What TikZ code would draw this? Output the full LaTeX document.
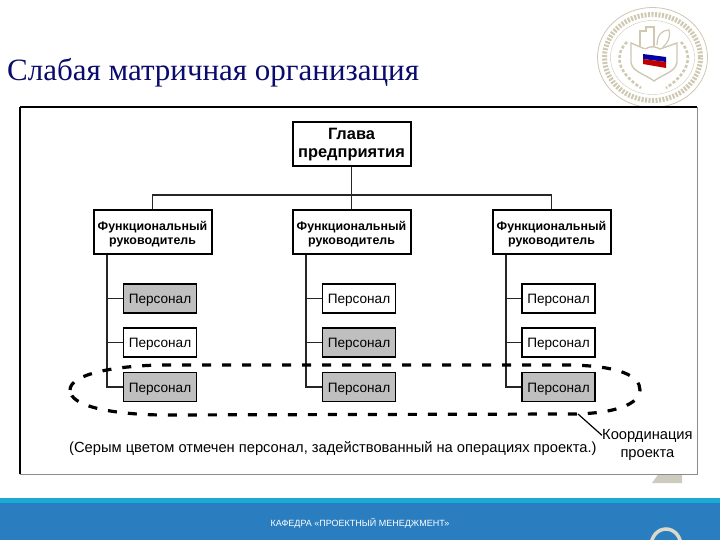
\documentclass[tikz,border=0pt]{standalone}
\usepackage{fontspec}
\usepackage{xcolor}
\setmainfont{Liberation Sans}
\newfontfamily\serifname{Liberation Serif}
\usetikzlibrary{calc,positioning}
\definecolor{titul}{HTML}{0B0B6E}
\definecolor{pechat}{HTML}{CFC9B2}
\definecolor{polosa}{HTML}{2A7EC0}
\definecolor{kromka}{HTML}{1CA9D2}
\tikzset{
  glavn/.style={draw=black,line width=2pt,fill=white,minimum width=118pt,minimum height=44pt,inner sep=0pt,align=center,font=\fontsize{12.4}{14.5}\selectfont\bfseries},
  pers/.style={draw=black,line width=1.7pt,minimum width=73pt,minimum height=29pt,inner sep=0pt,text height=12pt,text depth=2pt,font=\fontsize{13.6}{15}\selectfont},
  sery/.style={pers,fill=black!25},
  bely/.style={pers,fill=white},
  liniya/.style={line width=1.7pt,black!85},
  oval/.style={line width=3.2pt,dash pattern=on 9pt off 11pt},
  podpis/.style={inner sep=0pt,align=center,font=\fontsize{14.7}{18}\selectfont}
}
\begin{document}
\begin{tikzpicture}[x=1pt,y=-1pt]
\useasboundingbox (0,0) rectangle (720,540);
\fill[white] (0,0) rectangle (720,540);
% pechat
\draw[pechat,thick] (652.5,57.5) ellipse (55 and 50);
\draw[pechat,line width=5pt,dash pattern=on 2pt off 1.5pt] (652.5,57.5) ellipse (48 and 43);
\draw[pechat] (652.5,57.5) ellipse (42 and 37);
\draw[pechat,line width=1.4pt] (631,43) -- (631,62) .. controls (632,72) and (645,74) .. (654,81) .. controls (663,74) and (676,72) .. (677,62) -- (677,43) -- (660,49) .. controls (655,46) and (650,46) .. (645,49) -- cycle;
\draw[pechat,line width=1.2pt] (640,46) -- (640,31) -- (646,31) -- (646,27) -- (654,27) -- (654,46);
\draw[pechat,line width=1.2pt] (657,45) .. controls (657,35) and (662,30) .. (669,30) .. controls (671,36) and (668,43) .. (663,47);
\fill[white] (643,49) -- (666,52) -- (666,57) -- (643,54) -- cycle;
\fill[blue!65!black] (643,54) -- (666,57) -- (666,62) -- (643,59) -- cycle;
\fill[red!75!black] (643,59) -- (666,62) -- (666,68) -- (643,64) -- cycle;
\draw[pechat,line width=2.5pt,dash pattern=on 3pt off 2pt] (627,42) .. controls (614,55) and (617,72) .. (641,88);
\draw[pechat,line width=2.5pt,dash pattern=on 3pt off 2pt] (681,42) .. controls (693,55) and (690,72) .. (666,88);
% zagolovok
\node[anchor=base west,inner sep=0pt,text=titul,font=\serifname\fontsize{31}{34}\selectfont] (titl) at (7,81) {Слабая матричная организация};
% nomer slajda
\fill[pechat!70!gray!70!white] (652,483) -- (660,472) -- (682,472) -- (682,483) -- cycle;
% ramka
\fill[white] (20,107) rectangle (697,474);
\draw[black!45] (697,107) -- (697,474) -- (20,474);
\draw[line width=1.4pt] (20,474) -- (20,107);
\draw[line width=2pt] (20,107) -- (697,107);
% polosa
\fill[polosa] (0,498) rectangle (720,540);
\fill[kromka] (0,498) rectangle (720,503);
\node[text=white,inner sep=0pt,font=\fontsize{9}{10}\selectfont] (kaf) at (360,523) {КАФЕДРА «ПРОЕКТНЫЙ МЕНЕДЖМЕНТ»};
\begin{scope}
\clip (640,520) rectangle (700,540);
\draw[pechat!70!white,line width=3.5pt] (666,546) ellipse (15 and 17);
\end{scope}
% rukovoditeli
\node[glavn,font=\fontsize{16.4}{18.5}\selectfont\bfseries] (glava) at (351.5,144.5) {Глава\\предприятия};
\foreach \n/\x in {1/152.5,2/351.5,3/551.5}
  \node[glavn] (ruk\n) at (\x,232) {\rule{0pt}{14pt}Функциональный\\руководитель};
\coordinate (shina) at (351.5,195);
\draw[liniya] (glava) -- (ruk2);
\draw[liniya] (ruk1.north) |- (shina) -| (ruk3.north);
% personal
\foreach \n/\x/\a/\b/\c in {1/160/sery/bely/sery,2/359/bely/sery/sery,3/558.5/bely/bely/sery}{
  \node[\a] (p\n1) at (\x,298.5) {Персонал};
  \node[\b] (p\n2) at (\x,342.5) {Персонал};
  \node[\c] (p\n3) at (\x,387) {Персонал};
  \coordinate (st\n) at ($(ruk\n.south west)+(14.5,0)$);
  \draw[liniya] (st\n) |- (p\n3);
  \draw[liniya] (p\n1) -- (p\n1 -| st\n);
  \draw[liniya] (p\n2) -- (p\n2 -| st\n);
}
% koordinaciya
\draw[oval] (70,390) .. controls (70,374) and (115,366) .. (160,365) -- (570,365) .. controls (620,366) and (640,376) .. (640,390) .. controls (640,404) and (615,414) .. (570,414) -- (160,415) .. controls (110,414) and (70,406) .. cycle;
\coordinate (ovalniz) at (578,414);
\node[podpis,anchor=west] (koord) at (602,445) {Координация\\проекта};
\draw[line width=1.2pt] (ovalniz) -- (koord.168);
\node[podpis,anchor=west] (primech) at (69,449) {(Серым цветом отмечен персонал, задействованный на операциях проекта.)};
\end{tikzpicture}
\end{document}
